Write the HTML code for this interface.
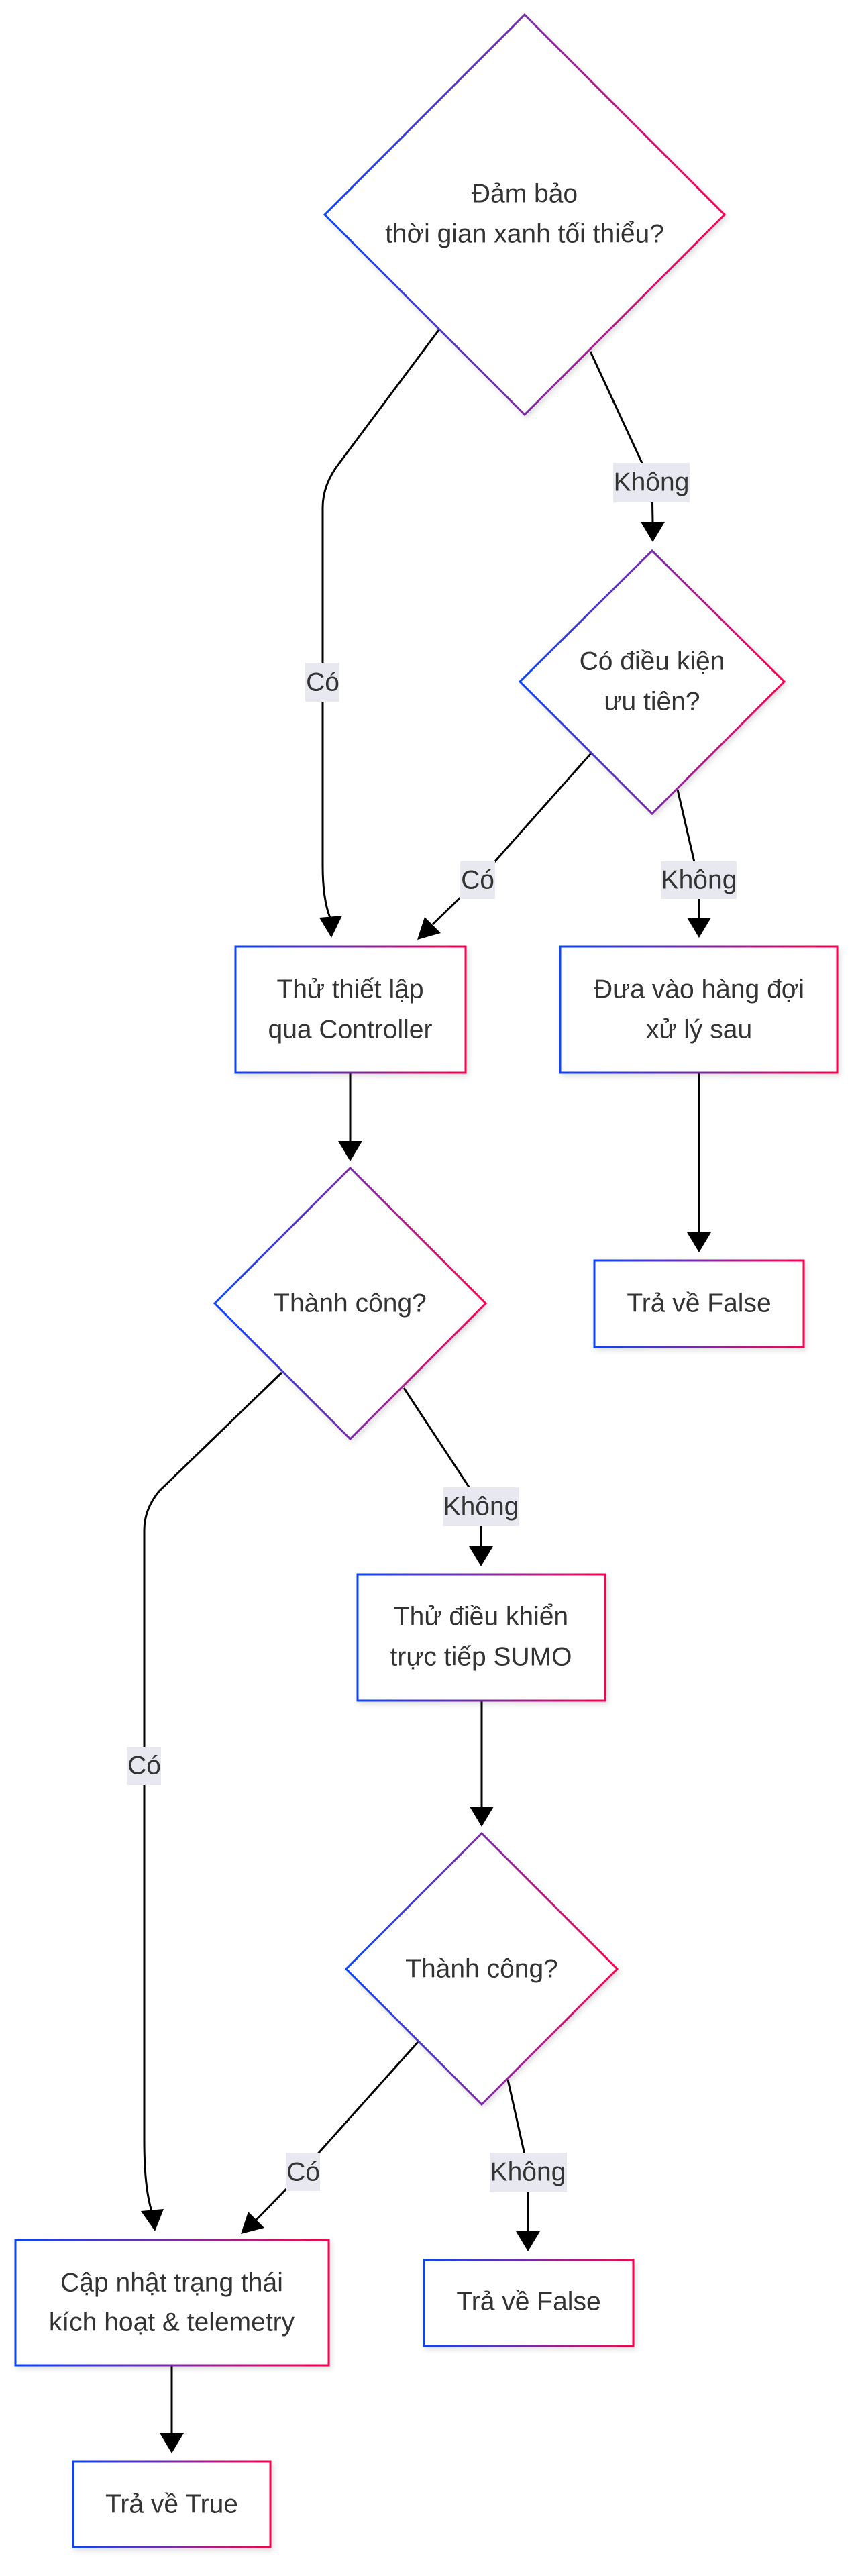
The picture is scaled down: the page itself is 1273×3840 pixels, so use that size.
<!DOCTYPE html>
<html><head><meta charset="utf-8"><style>
html,body{margin:0;padding:0;background:#fff;}
svg{display:block;}
text{font-family:"Liberation Sans",Arial,sans-serif;font-size:39px;fill:#333;text-anchor:middle;dominant-baseline:central;}
.e{fill:none;stroke:#000;stroke-width:3;}
.lb{fill:#e8e8f0;}
.n{fill:#fff;stroke:url(#g);stroke-width:3;filter:url(#sh);}
</style></head><body>
<svg width="1273" height="3840" viewBox="0 0 1273 3840" xmlns="http://www.w3.org/2000/svg">
<defs>
<linearGradient id="g" x1="0" y1="0" x2="1" y2="0"><stop offset="0" stop-color="#0a44ff"/><stop offset="0.5" stop-color="#7a2aa8"/><stop offset="1" stop-color="#ff0050"/></linearGradient>
<filter id="sh" x="-10%" y="-10%" width="120%" height="120%"><feDropShadow dx="3" dy="4" stdDeviation="4" flood-color="#000" flood-opacity="0.12"/></filter>
</defs>

<g class="e">
<path d="M654,492 L506,690 Q481,722 481,757 L481,1290 Q481,1340 492,1368"/>
<path d="M880,524 L957,690 L972,720 L973,778"/>
<path d="M881,1123 L737,1285 L685,1339 L645,1378"/>
<path d="M1010,1177 L1035,1285 L1042,1312 L1042,1368"/>
<path d="M522,1599 L522,1701"/>
<path d="M1042,1599 L1042,1837"/>
<path d="M420,2046 L237,2223 Q215,2250 215,2281 L215,3191 Q215,3260 226,3296"/>
<path d="M602,2069 L698,2215 L717,2246 L717,2305"/>
<path d="M718,2535 L718,2693"/>
<path d="M623,3044 L477,3207 L424,3266 L382,3309"/>
<path d="M757,3100 L781,3207 L787,3240 L787,3326"/>
<path d="M256,3526 L256,3627"/>
</g>
<g fill="#000">
<path d="M973,808 L955,778 L991,778 z"/>
<path d="M494,1398 L476,1368 L510,1365 z"/>
<path d="M622,1401 L633,1367 L657,1391 z"/>
<path d="M1042,1398 L1024,1368 L1060,1368 z"/>
<path d="M522,1731 L504,1701 L540,1701 z"/>
<path d="M1042,1867 L1024,1837 L1060,1837 z"/>
<path d="M231,3326 L210,3296 L244,3293 z"/>
<path d="M718,2723 L700,2693 L736,2693 z"/>
<path d="M717,2335 L699,2305 L735,2305 z"/>
<path d="M359,3330 L370,3297 L394,3321 z"/>
<path d="M787,3356 L769,3326 L805,3326 z"/>
<path d="M256,3657 L238,3627 L274,3627 z"/>
</g>

<rect class="lb" x="455" y="988" width="51" height="58"/><text x="481" y="1017">Có</text>
<rect class="lb" x="914" y="690" width="114" height="59"/><text x="971" y="719">Không</text>
<rect class="lb" x="686" y="1284" width="52" height="56"/><text x="712" y="1312">Có</text>
<rect class="lb" x="985" y="1284" width="113" height="56"/><text x="1042" y="1312">Không</text>
<rect class="lb" x="189" y="2604" width="51" height="57"/><text x="215" y="2632">Có</text>
<rect class="lb" x="660" y="2217" width="114" height="58"/><text x="717" y="2246">Không</text>
<rect class="lb" x="426" y="3209" width="51" height="57"/><text x="452" y="3238">Có</text>
<rect class="lb" x="730" y="3209" width="115" height="59"/><text x="787" y="3238">Không</text>

<polygon class="n" points="782,22 1080,320 782,618 484,320"/>
<text x="782" y="289">Đảm bảo</text><text x="782" y="349">thời gian xanh tối thiểu?</text>

<polygon class="n" points="972,821 1169,1016 972,1213 775,1016"/>
<text x="972" y="986">Có điều kiện</text><text x="972" y="1046">ưu tiên?</text>

<rect class="n" x="351" y="1411" width="343" height="188"/>
<text x="522" y="1475">Thử thiết lập</text><text x="522" y="1535">qua Controller</text>

<rect class="n" x="835" y="1411" width="413" height="188"/>
<text x="1042" y="1475">Đưa vào hàng đợi</text><text x="1042" y="1535">xử lý sau</text>

<polygon class="n" points="522,1741 724,1943 522,2145 320,1943"/>
<text x="522" y="1943">Thành công?</text>

<rect class="n" x="886" y="1879" width="312" height="129"/>
<text x="1042" y="1943">Trả về False</text>

<rect class="n" x="533" y="2347" width="369" height="188"/>
<text x="717" y="2410">Thử điều khiển</text><text x="717" y="2470">trực tiếp SUMO</text>

<polygon class="n" points="718,2733 920,2935 718,3137 516,2935"/>
<text x="718" y="2935">Thành công?</text>

<rect class="n" x="23" y="3339" width="467" height="187"/>
<text x="256" y="3403">Cập nhật trạng thái</text><text x="256" y="3462">kích hoạt &amp; telemetry</text>

<rect class="n" x="632" y="3369" width="312" height="128"/>
<text x="788" y="3431">Trả về False</text>

<rect class="n" x="109" y="3669" width="294" height="128"/>
<text x="256" y="3733">Trả về True</text>
</svg>
</body></html>
